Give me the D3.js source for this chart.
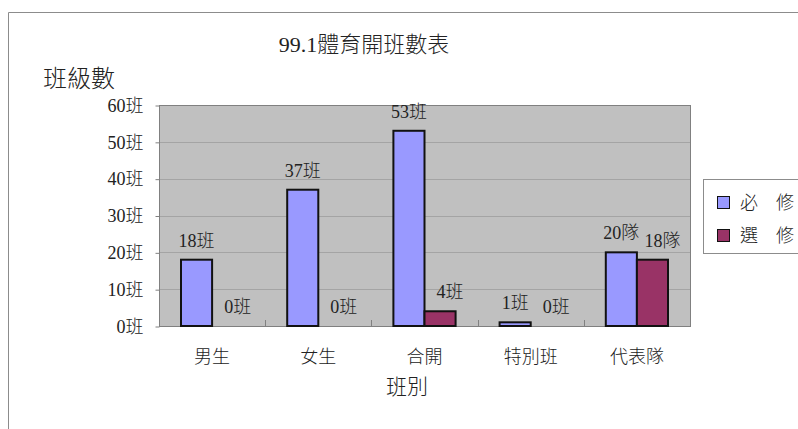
<!DOCTYPE html>
<html lang="zh-Hant">
<head>
<meta charset="utf-8">
<script src="https://cdn.jsdelivr.net/npm/d3@7"></script>
<style>
  body { margin: 0; background: #fff; }
  svg text { font-family: "Liberation Serif", "Noto Sans CJK TC", serif; fill: #222; font-weight: 300; }
</style>
</head>
<body>
<div id="chart"></div>
<script>
// data
const categories = ["男生", "女生", "合開", "特別班", "代表隊"];
const series = ["必　修", "選　修"];
const required = [18, 37, 53, 1, 20];
const elective = [0, 0, 4, 0, 18];
const units = ["班", "班", "班", "班", "隊"];
const yTicks = [0, 10, 20, 30, 40, 50, 60];
const colors = ["#9999ff", "#993366"];

const W = 798, H = 429;
const svg = d3.select("#chart").append("svg")
   .attr("width", W).attr("height", H);

// outer frame
svg.append("path")
   .attr("d", "M8.5," + H + " V12.5 H" + W)
   .attr("fill", "none").attr("stroke", "#8c8c8c");

const x = d3.scaleBand().domain(categories).range([159, 690]);
const xs = d3.scaleBand().domain(series).range([22, x.bandwidth() - 22]);
const y = d3.scaleLinear().domain([0, 60]).range([326, 105]);

// plot background
svg.append("rect")
   .attr("x", 159).attr("y", y(60))
   .attr("width", 531).attr("height", y(0) - y(60))
   .attr("fill", "#c0c0c0");

// grid
svg.selectAll(".grid").data(yTicks.slice(1, -1)).enter()
   .append("line")
   .attr("x1", 159).attr("x2", 690)
   .attr("y1", d => Math.round(y(d)) + 0.5).attr("y2", d => Math.round(y(d)) + 0.5)
   .attr("stroke", "#a4a4a4");

svg.append("rect")
   .attr("x", 159.5).attr("y", Math.round(y(60)) + 0.5)
   .attr("width", 531).attr("height", Math.round(y(0)) - Math.round(y(60)))
   .attr("fill", "none").attr("stroke", "#808080");

// y axis
const yAxis = d3.axisLeft(y).tickValues(yTicks).tickSize(4).tickPadding(12)
   .tickFormat(d => d + "班");
const gy = svg.append("g").attr("transform", "translate(159.5,0.5)").call(yAxis);
gy.select(".domain").remove();
gy.selectAll("line").attr("stroke", "#808080");
gy.selectAll("text").style("font-size", "18px").attr("fill", "#222");

// x axis
const xAxis = d3.axisBottom(x).tickSize(0).tickPadding(24);
const gx = svg.append("g").attr("transform", "translate(0," + (Math.round(y(0)) + 0.5) + ")").call(xAxis);
gx.select(".domain").remove();
gx.selectAll("text").style("font-size", "18px").attr("fill", "#222");

// category separators
svg.selectAll(".sep").data(categories.slice(1)).enter()
   .append("line")
   .attr("x1", d => Math.round(x(d)) + 0.5).attr("x2", d => Math.round(x(d)) + 0.5)
   .attr("y1", y(0) - 6).attr("y2", y(0))
   .attr("stroke", "#808080");

// bars
const rows = categories.map((c, i) => ({c: c, u: units[i], v: [required[i], elective[i]]}));
const groups = svg.selectAll(".grp").data(rows).enter()
   .append("g").attr("transform", d => "translate(" + x(d.c) + ",0)");

groups.selectAll("rect")
   .data(d => series.map((s, j) => ({s: s, j: j, v: d.v[j], u: d.u})).filter(e => e.v > 0))
   .enter().append("rect")
   .attr("x", d => xs(d.s)).attr("y", d => y(d.v))
   .attr("width", xs.bandwidth()).attr("height", d => y(0) - y(d.v))
   .attr("fill", d => colors[d.j])
   .attr("stroke", "#111").attr("stroke-width", 2);

// data labels
groups.selectAll("text.lbl")
   .data(d => series.map((s, j) => ({s: s, j: j, v: d.v[j], u: d.u})))
   .enter().append("text").attr("class", "lbl")
   .attr("x", d => xs(d.s) + xs.bandwidth() / 2 + (d.j ? 10 : 0))
   .attr("y", d => y(d.v) - 13)
   .attr("text-anchor", "middle")
   .style("font-size", "18px")
   .text(d => d.v + d.u);

// titles
svg.append("text").attr("x", 364).attr("y", 52)
   .attr("text-anchor", "middle").style("font-size", "22px")
   .text("99.1體育開班數表");
svg.append("text").attr("x", 43).attr("y", 87)
   .style("font-size", "24px")
   .text("班級數");
svg.append("text").attr("x", 407).attr("y", 394)
   .attr("text-anchor", "middle").style("font-size", "21px")
   .text("班別");

// legend
const lg = svg.append("g");
lg.append("rect").attr("x", 703.5).attr("y", 179.5)
   .attr("width", 110).attr("height", 74)
   .attr("fill", "#fff").attr("stroke", "#8c8c8c");
series.forEach((s, i) => {
  lg.append("rect").attr("x", 717.5).attr("y", 196.5 + i * 33)
     .attr("width", 12).attr("height", 12)
     .attr("fill", colors[i]).attr("stroke", "#111");
  lg.append("text").attr("x", 740).attr("y", 209 + i * 33)
     .style("font-size", "18px").text(s);
});
</script>
</body>
</html>
